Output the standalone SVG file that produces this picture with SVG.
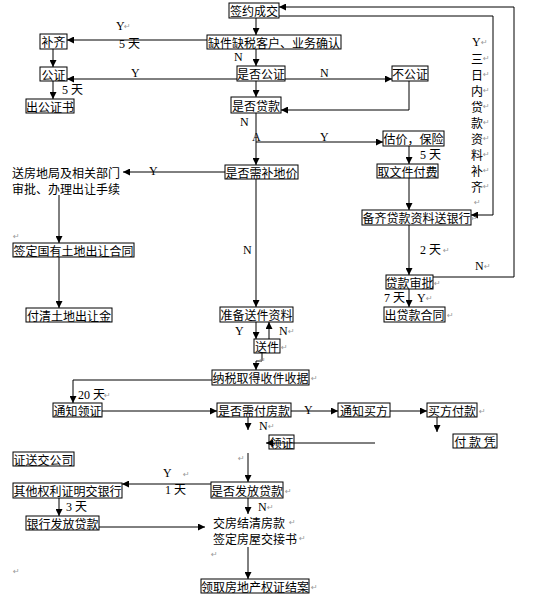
<svg xmlns="http://www.w3.org/2000/svg" width="534" height="599" viewBox="0 0 534 599">
<defs>
<marker id="ah" viewBox="0 0 10 10" refX="10" refY="5" markerWidth="7" markerHeight="7" markerUnits="userSpaceOnUse" orient="auto">
<path d="M0,0 L10,5 L0,10 z" fill="#000"/>
</marker>
<style>
.bx{fill:none;stroke:#000;stroke-width:1}
.t{font-family:"Noto Sans CJK SC","Liberation Serif",serif;font-size:12px;fill:#000;text-anchor:middle;dominant-baseline:central}
.tl{font-family:"Noto Sans CJK SC","Liberation Serif",serif;font-size:12px;fill:#000;dominant-baseline:central}
.lb{font-family:"Liberation Serif","Noto Sans CJK SC",serif;font-size:12px;fill:#000;dominant-baseline:central}
.pm{font-family:"DejaVu Sans",sans-serif;font-size:8px;fill:#999;dominant-baseline:central}
.c{fill:none;stroke:#000;stroke-width:1}
.a{marker-end:url(#ah)}
</style>
</defs>
<rect width="534" height="599" fill="#fff"/>
<g id="connectors">
<path class="c a" d="M256,18 V35"/>
<path class="c a" d="M207,40 H67"/>
<path class="c a" d="M53,49 V67"/>
<path class="c a" d="M237,79 H67"/>
<path class="c a" d="M53,81 V99"/>
<path class="c a" d="M256,49 V66"/>
<path class="c a" d="M285,79 H392"/>
<path class="c a" d="M409,81 V110 H281"/>
<path class="c a" d="M256,81 V97"/>
<path class="c a" d="M256,113 V165"/>
<path class="c a" d="M256,142 H383"/>
<path class="c a" d="M409,146 V164"/>
<path class="c a" d="M409,178 V210"/>
<path class="c a" d="M409,225 V275"/>
<path class="c a" d="M409,289 V307"/>
<path class="c a" d="M433,277 H514 V7 H279"/>
<path class="c a" d="M279,16 H493 V215 H471"/>
<path class="c a" d="M225,172 H123"/>
<path class="c a" d="M59,195 V243"/>
<path class="c a" d="M59,257 V308"/>
<path class="c a" d="M256,179 V307"/>
<path class="c a" d="M256,322 V339"/>
<path class="c a" d="M269,339 V322"/>
<path class="c a" d="M262,353 V361 H256 V370"/>
<path class="c a" d="M212,380 H73 V403"/>
<path class="c a" d="M102,411 H217"/>
<path class="c a" d="M291,411 H338"/>
<path class="c a" d="M390,411 H427"/>
<path class="c a" d="M437,417 V432"/>
<path class="c a" d="M248,417 V430"/>
<path class="c a" d="M375,443 H266"/>
<path class="c a" d="M248,453 V482"/>
<path class="c a" d="M211,484 H122"/>
<path class="c a" d="M59,498 V516"/>
<path class="c a" d="M99,527 H205"/>
<path class="c a" d="M248,498 V514"/>
<path class="c a" d="M248,547 V579"/>
</g>
<g id="n-qianyue"><rect class="bx" x="229" y="3" width="50" height="15"/><text class="t" x="254" y="10.5">签约成交</text></g>
<g id="n-quejian"><rect class="bx" x="207" y="35" width="134" height="14"/><text class="t" x="274" y="42">缺件缺税客户、业务确认</text></g>
<g id="n-buqi"><rect class="bx" x="40" y="34" width="27" height="15"/><text class="t" x="53.5" y="41.5">补齐</text></g>
<g id="n-gongzheng"><rect class="bx" x="40" y="67" width="27" height="14"/><text class="t" x="53.5" y="74">公证</text></g>
<g id="n-chugongzheng"><rect class="bx" x="26" y="99" width="48" height="14"/><text class="t" x="50" y="106">出公证书</text></g>
<g id="n-shifougongzheng"><rect class="bx" x="237" y="66" width="48" height="15"/><text class="t" x="261" y="73.5">是否公证</text></g>
<g id="n-bugongzheng"><rect class="bx" x="392" y="66" width="36" height="15"/><text class="t" x="410" y="73.5">不公证</text></g>
<g id="n-shifoudaikuan"><rect class="bx" x="231" y="97" width="50" height="16"/><text class="t" x="256" y="105">是否贷款</text></g>
<g id="n-gujia"><rect class="bx" x="383" y="131" width="61" height="15"/><text class="t" x="413.5" y="138.5">估价，保险</text></g>
<g id="n-quwenjian"><rect class="bx" x="377" y="164" width="61" height="14"/><text class="t" x="407.5" y="171">取文件付费</text></g>
<g id="n-beiqi"><rect class="bx" x="362" y="210" width="109" height="15"/><text class="t" x="416.5" y="217.5">备齐贷款资料送银行</text></g>
<g id="n-shenpi"><rect class="bx" x="386" y="275" width="47" height="14"/><text class="t" x="409.5" y="282">贷款审批</text></g>
<g id="n-hetong"><rect class="bx" x="384" y="307" width="61" height="15"/><text class="t" x="414.5" y="314.5">出贷款合同</text></g>
<g id="n-bujia"><rect class="bx" x="225" y="165" width="73" height="14"/><text class="t" x="261.5" y="172">是否需补地价</text></g>
<g id="n-songfang"><text class="tl" x="12" y="172">送房地局及相关部门</text><text class="tl" x="12" y="188">审批、办理出让手续</text></g>
<g id="n-qianding"><rect class="bx" x="13" y="243" width="121" height="14"/><text class="t" x="73.5" y="250">签定国有土地出让合同</text></g>
<g id="n-fuqing"><rect class="bx" x="26" y="308" width="86" height="14"/><text class="t" x="69" y="315">付清土地出让金</text></g>
<g id="n-zhunbei"><rect class="bx" x="220" y="307" width="73" height="15"/><text class="t" x="256.5" y="314.5">准备送件资料</text></g>
<g id="n-songjian"><rect class="bx" x="254" y="339" width="26" height="14"/><text class="t" x="267" y="346">送件</text></g>
<g id="n-nashui"><rect class="bx" x="212" y="370" width="97" height="15"/><text class="t" x="260.5" y="377.5">纳税取得收件收据</text></g>
<g id="n-tongzhilingzheng"><rect class="bx" x="53" y="403" width="49" height="14"/><text class="t" x="77.5" y="410">通知领证</text></g>
<g id="n-fufangkuan"><rect class="bx" x="217" y="403" width="74" height="14"/><text class="t" x="254" y="410">是否需付房款</text></g>
<g id="n-tongzhimaifang"><rect class="bx" x="338" y="403" width="52" height="14"/><text class="t" x="364" y="410">通知买方</text></g>
<g id="n-maifangfukuan"><rect class="bx" x="427" y="403" width="50" height="14"/><text class="t" x="452" y="410">买方付款</text></g>
<g id="n-fukuanping"><rect class="bx" x="453" y="434" width="44" height="14"/><text class="t" x="475" y="441" xml:space="preserve">付 款 凭</text></g>
<g id="n-lingzheng"><rect class="bx" x="269" y="435" width="25" height="14"/><text class="t" x="281.5" y="442">领证</text></g>
<g id="n-zhengsong"><rect class="bx" x="13" y="452" width="61" height="14"/><text class="t" x="43.5" y="459">证送交公司</text></g>
<g id="n-qita"><rect class="bx" x="13" y="483" width="109" height="15"/><text class="t" x="67.5" y="490.5">其他权利证明交银行</text></g>
<g id="n-yinhang"><rect class="bx" x="26" y="516" width="73" height="14"/><text class="t" x="62.5" y="523">银行发放贷款</text></g>
<g id="n-fafang"><rect class="bx" x="211" y="482" width="72" height="16"/><text class="t" x="247" y="490">是否发放贷款</text></g>
<g id="n-jiaofang"><text class="tl" x="213" y="522">交房结清房款</text><text class="tl" x="213" y="538">签定房屋交接书</text></g>
<g id="n-lingqu"><rect class="bx" x="201" y="579" width="108" height="14"/><text class="t" x="255" y="586">领取房地产权证结案</text></g>
<g id="labels">
<text class="lb" x="116" y="26">Y</text><text class="pm" x="124" y="26">↵</text>
<text class="lb" x="119" y="44" xml:space="preserve">5 天</text>
<text class="lb" x="131" y="73">Y</text>
<text class="lb" x="62" y="90" xml:space="preserve">5 天</text>
<text class="lb" x="234" y="57">N</text>
<text class="lb" x="320" y="73">N</text>
<text class="lb" x="240" y="122">N</text>
<text class="lb" x="252" y="137">A</text>
<text class="lb" x="320" y="137">Y</text>
<text class="lb" x="420" y="155" xml:space="preserve">5 天</text>
<text class="lb" x="472" y="42">Y</text><text class="pm" x="481" y="42">↵</text>
<text class="tl" x="471" y="58">三</text><text class="pm" x="483" y="58">↵</text>
<text class="tl" x="471" y="74">日</text><text class="pm" x="483" y="74">↵</text>
<text class="tl" x="471" y="90">内</text><text class="pm" x="483" y="90">↵</text>
<text class="tl" x="471" y="106">贷</text><text class="pm" x="483" y="106">↵</text>
<text class="tl" x="471" y="122">款</text><text class="pm" x="483" y="122">↵</text>
<text class="tl" x="471" y="138">资</text><text class="pm" x="483" y="138">↵</text>
<text class="tl" x="471" y="154">料</text><text class="pm" x="483" y="154">↵</text>
<text class="tl" x="471" y="170">补</text><text class="pm" x="483" y="170">↵</text>
<text class="tl" x="471" y="186">齐</text><text class="pm" x="483" y="186">↵</text>
<text class="pm" x="474" y="202">↵</text>
<text class="pm" x="471" y="218">↵</text>
<text class="lb" x="420" y="250" xml:space="preserve">2 天</text><text class="pm" x="443" y="250">↵</text>
<text class="lb" x="475" y="266">N</text><text class="pm" x="484" y="266">↵</text>
<text class="pm" x="434" y="283">↵</text>
<text class="lb" x="384" y="298" xml:space="preserve">7 天</text>
<text class="lb" x="417" y="298">Y</text><text class="pm" x="426" y="298">↵</text>
<text class="pm" x="447" y="315">↵</text>
<text class="lb" x="149" y="171">Y</text>
<text class="pm" x="13" y="236">↵</text>
<text class="lb" x="243" y="250">N</text>
<text class="lb" x="235" y="331">Y</text>
<text class="lb" x="279" y="331">N</text><text class="pm" x="288" y="331">↵</text>
<text class="pm" x="281" y="347">↵</text>
<text class="pm" x="259" y="360">↵</text>
<text class="pm" x="311" y="378">↵</text>
<text class="lb" x="78" y="395" xml:space="preserve">20 天</text><text class="pm" x="104" y="395">↵</text>
<text class="lb" x="304" y="410">Y</text>
<text class="pm" x="479" y="411">↵</text>
<text class="lb" x="259" y="426">N</text><text class="pm" x="268" y="426">↵</text>
<text class="pm" x="238" y="458">↵</text>
<text class="lb" x="163" y="473">Y</text><text class="pm" x="183" y="474">↵</text>
<text class="lb" x="165" y="490" xml:space="preserve">1 天</text>
<text class="pm" x="285" y="491">↵</text>
<text class="lb" x="66" y="507" xml:space="preserve">3 天</text>
<text class="lb" x="258" y="507">N</text><text class="pm" x="267" y="507">↵</text>
<text class="pm" x="289" y="522">↵</text>
<text class="pm" x="299" y="538">↵</text>
<text class="pm" x="211" y="554">↵</text>
<text class="pm" x="13" y="571">↵</text>
<text class="pm" x="311" y="587">↵</text>
</g>
</svg>
